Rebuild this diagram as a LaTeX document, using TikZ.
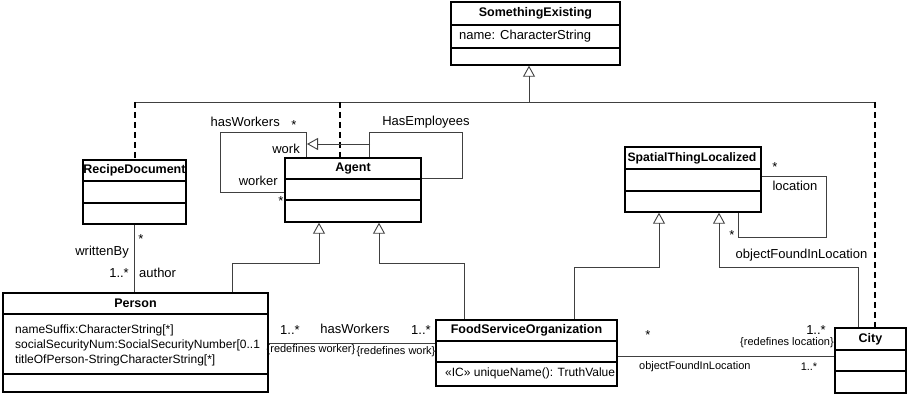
\documentclass[tikz,border=0pt]{standalone}
\usepackage{fontspec}
\setmainfont{Liberation Sans}
\usetikzlibrary{arrows.meta}

\begin{document}
\begin{tikzpicture}[x=1pt,y=-1pt,
          font=\fontsize{13}{15}\selectfont,
          cls/.style={draw, line width=1.4pt, inner sep=0pt},
          sep/.style={line width=1.4pt},
          ttl/.style={inner sep=0pt, font=\fontsize{12.5}{15}\selectfont\bfseries},
          txt/.style={inner sep=0pt},
          attr/.style={inner sep=0pt, anchor=west, font=\fontsize{12}{15}\selectfont},
          sm/.style={inner sep=0pt, font=\fontsize{11}{13}\selectfont},
          conn/.style={line width=0.9pt, black!75},
          gen/.style={conn, -{Triangle[open, length=11pt, width=12pt]}},
          dep/.style={line width=1.4pt, dash pattern=on 6pt off 4pt}]
        \useasboundingbox (0,0) rectangle (922,395);
        % classes
        \node[cls, minimum width=169pt, minimum height=63pt] (exist)   at (535.5,33.5)  {};
        \node[cls, minimum width=103pt, minimum height=64pt] (recipe)  at (134.5,192)   {};
        \node[cls, minimum width=136pt, minimum height=64pt] (agent)   at (353,190)     {};
        \node[cls, minimum width=136pt, minimum height=65pt] (spatial) at (693,179.5)   {};
        \node[cls, minimum width=265pt, minimum height=99pt] (person)  at (135.5,342.5) {};
        \node[cls, minimum width=181pt, minimum height=66pt] (fso)     at (526.5,353)   {};
        \node[cls, minimum width=71pt,  minimum height=65pt] (city)    at (870.5,360.5) {};
        \draw[sep] (exist.west |- 0,25) -- (exist.east |- 0,25);
        \draw[sep] (exist.west |- 0,48) -- (exist.east |- 0,48);
        \draw[sep] (recipe.west |- 0,181) -- (recipe.east |- 0,181);
        \draw[sep] (recipe.west |- 0,203) -- (recipe.east |- 0,203);
        \draw[sep] (agent.west |- 0,179) -- (agent.east |- 0,179);
        \draw[sep] (agent.west |- 0,200) -- (agent.east |- 0,200);
        \draw[sep] (spatial.west |- 0,169) -- (spatial.east |- 0,169);
        \draw[sep] (spatial.west |- 0,191) -- (spatial.east |- 0,191);
        \draw[sep] (person.west |- 0,314) -- (person.east |- 0,314);
        \draw[sep] (person.west |- 0,374) -- (person.east |- 0,374);
        \draw[sep] (fso.west |- 0,341) -- (fso.east |- 0,341);
        \draw[sep] (fso.west |- 0,362) -- (fso.east |- 0,362);
        \draw[sep] (city.west |- 0,350) -- (city.east |- 0,350);
        \draw[sep] (city.west |- 0,371) -- (city.east |- 0,371);
        \node[ttl] (existT)   at (535.5,13.5) {SomethingExisting};
        \node[txt, anchor=west] (existA) at (459,36.5) {name: CharacterString};
        \node[ttl] (recipeT)  at (134.5,170.5) {RecipeDocument};
        \node[ttl] (agentT)   at (353,168.5) {Agent};
        \node[ttl, font=\fontsize{12.2}{15}\selectfont\bfseries] (spatialT) at (692,158) {SpatialThingLocalized};
        \node[ttl] (personT)  at (135.5,303.5) {Person};
        \node[attr] (personA1) at (15,330) {nameSuffix:CharacterString[*]};
        \node[attr] (personA2) at (15,345) {socialSecurityNum:SocialSecurityNumber[0..1};
        \node[attr] (personA3) at (15,360) {titleOfPerson-StringCharacterString[*]};
        \node[ttl] (fsoT)     at (526.5,330.5) {FoodServiceOrganization};
        \node[attr] (fsoO) at (445,373.5) {«IC» uniqueName(): TruthValue};
        \node[ttl] (cityT)    at (870.5,339) {City};
        % generalization bus to SomethingExisting
        \coordinate (busL) at (135,102);
        \coordinate (busM) at (529,102);
        \coordinate (busR) at (875,102);
        \draw[conn] (busL) -- (busR);
        \draw[gen] (busM) -- (busM |- exist.south);
        \draw[dep] (busL) -- (busL |- recipe.north);
        \draw[dep] (340,102) -- (agent.north -| 340,0);
        \draw[dep] (busR) -- (busR |- city.north);
        % writtenBy
        \draw[conn] (recipe.south) -- (recipe.south |- person.north);
        \node[txt] (wbStar) at (141,239) {*};
        \node[txt, anchor=east] (wbName) at (129,252) {writtenBy};
        \node[txt, anchor=east] (wbMult) at (129,273) {1..*};
        \node[txt, anchor=west] (wbRole) at (139,273) {author};
        % hasWorkers self loop
        \draw[conn] ([xshift=22pt]agent.north west) |- (220,132) |- ([yshift=-2pt]agent.west);
        \node[txt, anchor=east] (hwName) at (280,122) {hasWorkers};
        \node[txt] (hwStar1) at (294,125) {*};
        \node[txt, anchor=east] (hwWork) at (300,149) {work};
        \node[txt, anchor=east] (hwWorker) at (278,181) {worker};
        \node[txt] (hwStar2) at (281,201) {*};
        % HasEmployees self loop
        \draw[conn] ([xshift=85pt]agent.north west) |- (462,132) |- ([yshift=-21pt]agent.north east);
        \draw[gen] (370,144) -- (307,144);
        \node[txt] (heName) at (426,122) {HasEmployees};
        % specializations of Agent
        \draw[gen] (person.north -| 232,0) |- (319,263) -- (agent.south -| 319,0);
        \draw[gen] (fso.north -| 464,0) |- (379,263) -- (agent.south -| 379,0);
        % specializations of SpatialThingLocalized
        \draw[gen] (fso.north -| 574,0) |- (659,267) -- (spatial.south -| 659,0);
        \draw[gen] (city.north -| 858,0) |- (719,267) -- (spatial.south -| 719,0);
        \node[txt] (ofName1) at (801.5,255) {objectFoundInLocation};
        % location self loop
        \draw[conn] (spatial.east |- 0,176) -| (826,237) -| (spatial.south -| 738,0);
        \node[txt] (locStar1) at (775,167) {*};
        \node[txt] (locName) at (795,186) {location};
        \node[txt] (locStar2) at (732,235) {*};
        % hasWorkers Person - FoodServiceOrganization
        \draw[conn] (person.east |- 0,343) -- (fso.west |- 0,343);
        \node[txt] (pwMult1) at (290,330) {1..*};
        \node[txt] (pwName) at (355,329) {hasWorkers};
        \node[txt] (pwMult2) at (421,330) {1..*};
        \node[sm] (pwRed1) at (311,350) {\{redefines worker\}};
        \node[sm] (pwRed2) at (396,352) {\{redefines work\}};
        % objectFoundInLocation FoodServiceOrganization - City
        \draw[conn] (fso.east |- 0,356) -- (city.west |- 0,356);
        \node[txt] (ofStar) at (648,335) {*};
        \node[txt] (ofMult1) at (816,330) {1..*};
        \node[sm, anchor=east] (ofRed) at (834,343) {\{redefines location\}};
        \node[sm, anchor=west] (ofName2) at (639,367) {objectFoundInLocation};
        \node[sm] (ofMult2) at (809,367) {1..*};
      \end{tikzpicture}
\end{document}
